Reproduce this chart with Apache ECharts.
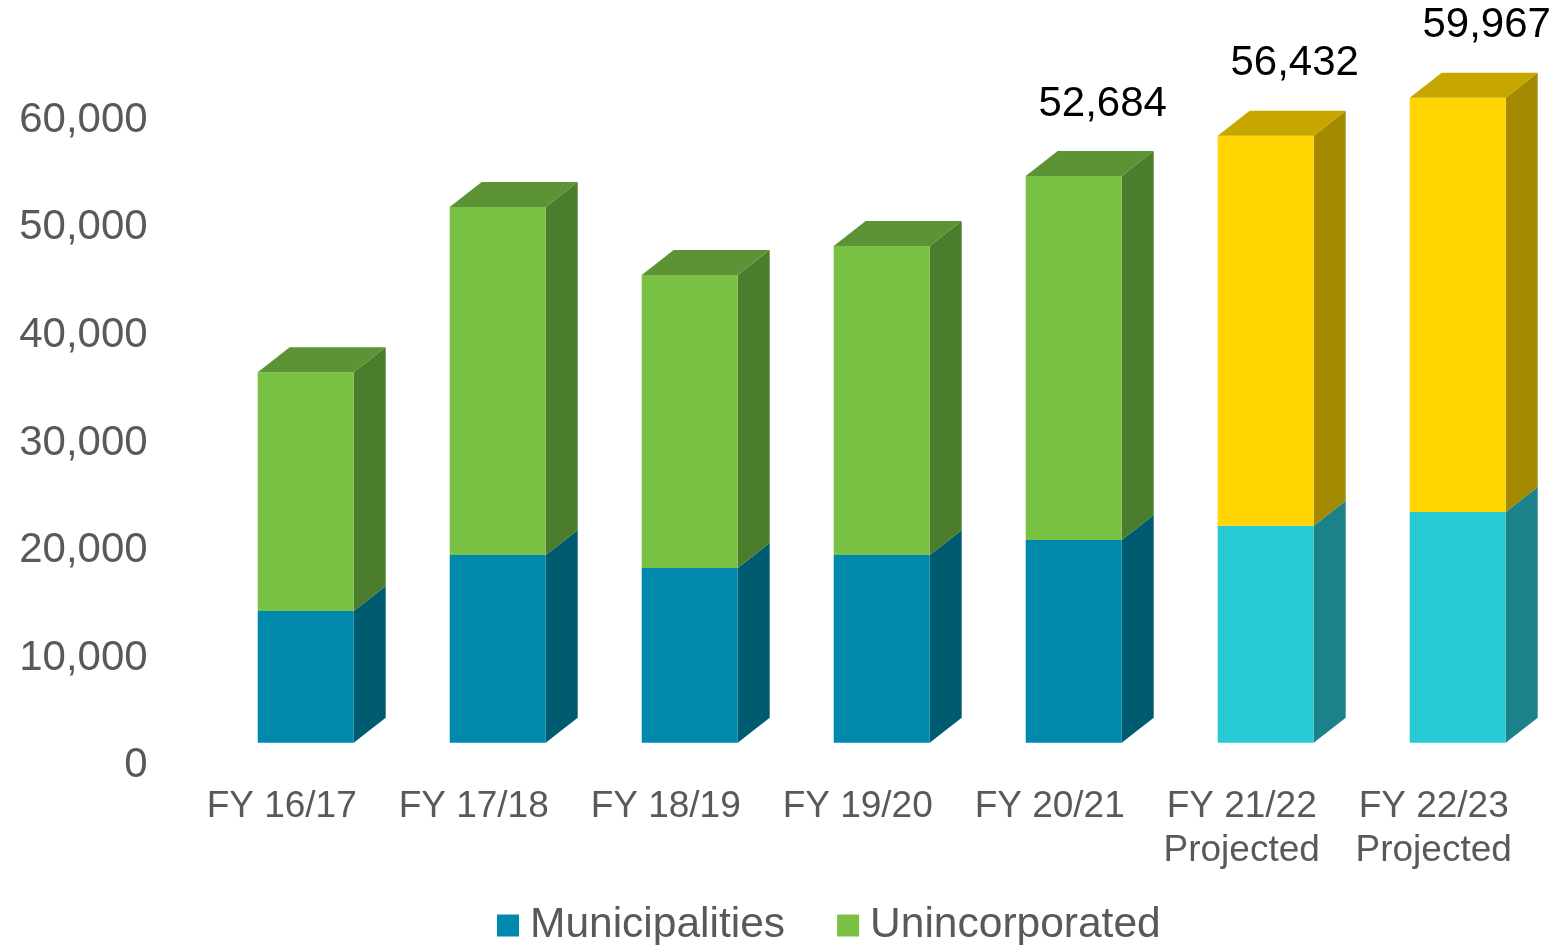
<!DOCTYPE html>
<html lang="en">
<head>
    <meta charset="UTF-8">
    <title>Population</title>
    <script src="https://cdn.jsdelivr.net/npm/echarts@6/dist/echarts.min.js"></script>
</head>
<body style="margin:0;background:#fff;">
<div id="main" style="width:1568px;height:945px;"></div>

<script type="text/javascript">
    var categories = ['FY 16/17', 'FY 17/18', 'FY 18/19', 'FY 19/20', 'FY 20/21', 'FY 21/22\nProjected', 'FY 22/23\nProjected'];
    var municipalities = [12250, 17450, 16240, 17450, 18850, 20170, 21450];
    var unincorporated = [22190, 32350, 27240, 28730, 33834, 36262, 38517];
    var projected = [false, false, false, false, false, true, true];
    var totalLabels = ['', '', '', '', '52,684', '56,432', '59,967'];
    var yTicks = [0, 10000, 20000, 30000, 40000, 50000, 60000];

    // front / side / top colours, actual vs projected
    var muniColors = {
        actual: ['#0089ad', '#005a70', '#00708e'],
        proj: ['#27cad3', '#1a8288', '#1fa5ad']
    };
    var unincColors = {
        actual: ['#79c143', '#4c7d2c', '#5c9335'],
        proj: ['#ffd400', '#a38a00', '#c7a600']
    };
    var font = '"Liberation Sans", Arial, sans-serif';

    var myChart = echarts.init(document.getElementById('main'));

    function makeRender(colors, withTop) {
        return function (params, api) {
            var i = api.value(0);
            var lo = api.value(1), hi = api.value(2);
            var p0 = api.coord([i, lo]);
            var p1 = api.coord([i, hi]);
            var band = api.size([1, 0])[0];
            var w = band / 2;
            var x = p0[0] - band / 8;
            var x2 = x + w;
            var dx = band / 6, dy = 25;
            var c = projected[i] ? colors.proj : colors.actual;
            var kids = [];
            kids.push({
                type: 'polygon',
                shape: {points: [[x2, p0[1]], [x2 + dx, p0[1] - dy], [x2 + dx, p1[1] - dy], [x2, p1[1]]]},
                style: {fill: c[1]}
            });
            kids.push({
                type: 'rect',
                shape: {x: x, y: p1[1], width: w, height: p0[1] - p1[1]},
                style: {fill: c[0]}
            });
            if (withTop) {
                kids.push({
                    type: 'polygon',
                    shape: {points: [[x, p1[1]], [x + dx, p1[1] - dy], [x2 + dx, p1[1] - dy], [x2, p1[1]]]},
                    style: {fill: c[2]}
                });
                if (totalLabels[i]) {
                    kids.push({
                        type: 'text',
                        style: {
                            text: totalLabels[i],
                            x: x + w / 2 + 29,
                            y: p1[1] - 72,
                            align: 'center',
                            verticalAlign: 'middle',
                            fill: '#000',
                            font: '42px ' + font
                        }
                    });
                }
            }
            return {type: 'group', children: kids};
        };
    }

    var muniData = [], unincData = [];
    categories.forEach(function (c, i) {
        muniData.push([i, 0, municipalities[i]]);
        unincData.push([i, municipalities[i], municipalities[i] + unincorporated[i]]);
    });

    var option = {
        backgroundColor: '#fff',
        animation: false,
        textStyle: {fontFamily: font},
        grid: {left: 185.7, right: 38.3, top: 97.3, bottom: 202.3},
        legend: {
            left: 492,
            top: 899,
            itemWidth: 22,
            itemHeight: 22,
            itemGap: 52,
            icon: 'rect',
            textStyle: {fontSize: 42.5, color: '#595959', fontFamily: font, padding: [0, 0, 0, 6]},
            data: ['Municipalities', 'Unincorporated']
        },
        xAxis: {
            type: 'category',
            data: categories,
            axisLine: {show: false},
            axisTick: {show: false},
            axisLabel: {
                fontSize: 37,
                lineHeight: 44,
                color: '#595959',
                margin: 42,
                interval: 0
            }
        },
        yAxis: {
            type: 'value',
            min: yTicks[0],
            max: yTicks[yTicks.length - 1],
            interval: yTicks[1] - yTicks[0],
            splitLine: {show: false},
            axisLine: {show: false},
            axisTick: {show: false},
            axisLabel: {
                fontSize: 42,
                lineHeight: 46,
                verticalAlign: 'top',
                color: '#595959',
                margin: 38,
                formatter: function (v) { return v.toLocaleString('en-US'); }
            }
        },
        series: [
            {
                name: 'Municipalities',
                type: 'custom',
                clip: false,
                itemStyle: {color: '#0089ad'},
                encode: {x: 0, y: [1, 2]},
                renderItem: makeRender(muniColors, false),
                data: muniData
            },
            {
                name: 'Unincorporated',
                type: 'custom',
                clip: false,
                itemStyle: {color: '#79c143'},
                encode: {x: 0, y: [1, 2]},
                renderItem: makeRender(unincColors, true),
                data: unincData
            }
        ]
    };
    myChart.setOption(option);
</script>
</body>
</html>
